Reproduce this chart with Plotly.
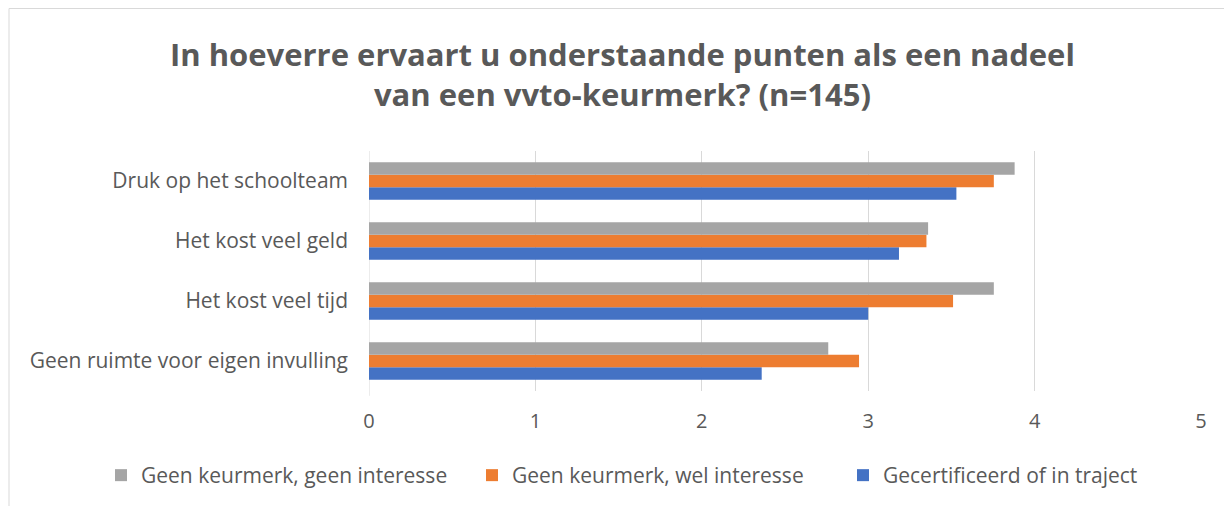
import plotly.graph_objects as go

categories = ["Geen ruimte voor eigen invulling", "Het kost veel tijd", "Het kost veel geld", "Druk op het schoolteam"]
series_names = ["Gecertificeerd of in traject", "Geen keurmerk, wel interesse", "Geen keurmerk, geen interesse"]
gecertificeerd = [2.36, 3.00, 3.185, 3.53]
wel_interesse = [2.945, 3.51, 3.35, 3.755]
geen_interesse = [2.76, 3.755, 3.36, 3.88]
colors = ["#4472C4", "#ED7D31", "#A5A5A5"]
x_ticks = [0, 1, 2, 3, 4, 5]

W, H = 1224, 498
L, R, T, B = 361, 31, 143, 115
pw, ph = W - L - R, H - T - B

fig = go.Figure()
for name, vals, col in zip(series_names, [gecertificeerd, wel_interesse, geen_interesse], colors):
    fig.add_trace(go.Bar(y=categories, x=vals, name=name, orientation="h",
                         marker=dict(color=col, line=dict(width=0))))

FONT = "Open Sans"
fig.update_layout(
    width=W, height=H,
    barmode="group", bargap=0.378, bargroupgap=0,
    paper_bgcolor="white", plot_bgcolor="white",
    margin=dict(l=L, r=R, t=T, b=B, autoexpand=False),
    title=dict(text="<b>In hoeverre ervaart u onderstaande punten als een nadeel<br>van een vvto-keurmerk? (n=145)</b>",
               x=0.502, xanchor="center", y=1 - 57.5 / H, yanchor="middle",
               font=dict(family=FONT, size=31, color="#595959")),
    font=dict(family=FONT, size=21, color="#595959"),
    xaxis=dict(range=[0, 5], tickvals=x_ticks, showgrid=True, gridcolor="#D9D9D9", gridwidth=1,
               zeroline=False, showline=False, ticks="", ticklabelstandoff=16,
               tickfont=dict(family=FONT, size=20, color="#595959")),
    yaxis=dict(showgrid=False, showline=False, ticks="", ticklabelstandoff=20,
               tickfont=dict(family=FONT, size=21, color="#595959")),
    legend=dict(orientation="h", xref="paper", x=(93 - L) / pw, xanchor="left",
                yref="paper", y=-64 / ph, yanchor="top", entrywidth=326,
                traceorder="reversed", font=dict(family=FONT, size=21, color="#595959")),
    showlegend=True,
)
fig.add_shape(type="line", xref="x", yref="paper", x0=0, x1=0, y0=-0.02, y1=1.0,
              line=dict(color="#D9D9D9", width=1), layer="below")
# outer chart border (left and top)
fig.add_shape(type="line", xref="paper", yref="paper", x0=(1 - L) / pw, x1=(1 - L) / pw,
              y0=-(B + 5) / ph, y1=1 + (T - 0.5) / ph, line=dict(color="#D9D9D9", width=1))
fig.add_shape(type="line", xref="paper", yref="paper", x0=(1 - L) / pw, x1=1 + (R + 5) / pw,
              y0=1 + (T - 0.5) / ph, y1=1 + (T - 0.5) / ph, line=dict(color="#D9D9D9", width=1))
fig.write_html("out.html")
